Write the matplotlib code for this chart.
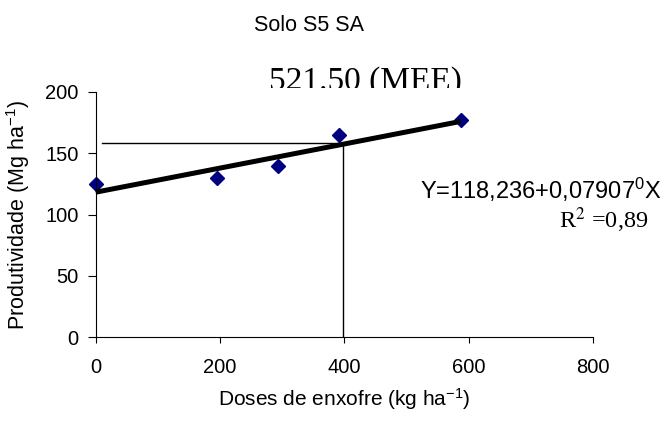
import matplotlib
matplotlib.use('Agg')
import matplotlib.pyplot as plt
from matplotlib.transforms import Bbox, TransformedBbox

plt.rcParams['font.family'] = ['Liberation Sans', 'DejaVu Sans']
plt.rcParams['mathtext.fontset'] = 'custom'
plt.rcParams['mathtext.rm'] = 'Liberation Sans'
plt.rcParams['mathtext.it'] = 'Liberation Sans'
plt.rcParams['mathtext.bf'] = 'Liberation Sans'

# dados
doses = [0, 195, 293, 391, 587]
produtividade = [125, 130, 139.5, 165, 177]

fit_x = [0, 587]
fit_y = [118.3, 176.0]

# linhas de referencia (MEE)
guia_x = [10, 398]
guia_y = 158.4

titulo = 'Solo S5 SA'
texto_mee = '521.50 (MEE)'
equacao = r'Y=118,236+0,07907$^{0}$X'
r2 = r'R$^{2}$ =0,89'

fig = plt.figure(figsize=(6.64, 4.21), dpi=100)
ax = fig.add_axes([0.1441, 0.1988, 0.749, 0.5827])

ax.plot(doses, produtividade, linestyle='none', marker='D', ms=7.5,
        color='#000080', zorder=2, clip_on=False)
ax.plot(fit_x, fit_y, color='black', lw=3.6, zorder=3, clip_on=False,
        solid_capstyle='butt')
ax.plot(guia_x, [guia_y, guia_y], color='black', lw=1.0, zorder=1)
ax.plot([guia_x[1], guia_x[1]], [0, guia_y], color='black', lw=1.0, zorder=1)

ax.set_xlim(0, 800)
ax.set_ylim(0, 200)
ax.set_xticks([0, 200, 400, 600, 800])
ax.set_yticks([0, 50, 100, 150, 200])

for s in ['top', 'right']:
    ax.spines[s].set_visible(False)
for s in ['left', 'bottom']:
    ax.spines[s].set_linewidth(0.8)

ax.tick_params(axis='x', direction='out', length=4.3, width=0.8, pad=10.5, labelsize=14.5)
ax.tick_params(axis='y', direction='out', length=5.8, width=0.8, pad=6.5, labelsize=14.5)

ax.set_xlabel(r'Doses de enxofre (kg ha$^{-1}$)', fontsize=15)
ax.xaxis.set_label_coords(0.5, -0.2)
ax.set_ylabel(r'Produtividade (Mg ha$^{-1}$)', fontsize=15.5)
ax.yaxis.set_label_coords(-0.128, 0.5)

fig.text(0.4654, 0.926, titulo, ha='center', va='baseline', fontsize=15.5)

t = fig.text(0.5497, 0.786, texto_mee, ha='center', va='baseline', fontsize=24,
             family=['Liberation Serif', 'DejaVu Serif'])
t.set_clip_box(TransformedBbox(Bbox([[0, 0.791], [1, 1]]), fig.transFigure))
t.set_clip_on(True)

fig.text(0.6325, 0.527, equacao, ha='left', va='baseline', fontsize=17)
fig.text(0.976, 0.4584, r2, ha='right', va='baseline', fontsize=17.5,
         family=['Liberation Serif', 'DejaVu Serif'], math_fontfamily='stix')

fig.savefig('out.png', dpi=100)
